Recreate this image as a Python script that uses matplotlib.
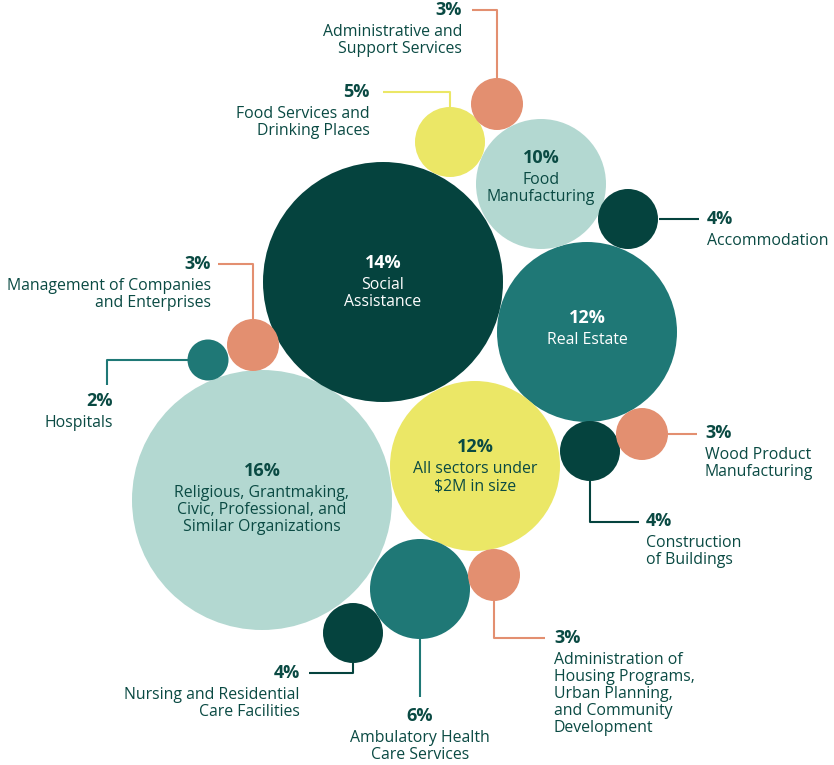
import matplotlib.pyplot as plt
from matplotlib.patches import Circle

plt.rcParams['font.family'] = ['Open Sans', 'DejaVu Sans']

# --- data ---
names = [
    "Religious, Grantmaking,\nCivic, Professional, and\nSimilar Organizations",
    "Social\nAssistance",
    "Real Estate",
    "All sectors under\n$2M in size",
    "Food\nManufacturing",
    "Ambulatory Health\nCare Services",
    "Food Services and\nDrinking Places",
    "Accommodation",
    "Construction\nof Buildings",
    "Nursing and Residential\nCare Facilities",
    "Administrative and\nSupport Services",
    "Management of Companies\nand Enterprises",
    "Wood Product\nManufacturing",
    "Administration of\nHousing Programs,\nUrban Planning,\nand Community\nDevelopment",
    "Hospitals",
]
pcts = [16, 14, 12, 12, 10, 6, 5, 4, 4, 4, 3, 3, 3, 3, 2]

# --- layout (pixels, y down) ---
cx = [262, 383, 587, 475, 541, 420, 450, 628, 590, 353, 497, 253, 642, 494, 208]
cy = [500, 282, 332, 466, 184, 589, 142, 219, 451, 633, 104, 345, 434, 575, 360]
rad = [130, 120, 90, 85, 65, 50, 35, 30, 30, 30, 26, 26, 26, 26, 20.5]

DARK = "#05433e"
TEAL = "#1f7876"
MINT = "#b3d8d1"
YELLOW = "#ebe766"
SALMON = "#e38f70"
TEXT = "#0a4a43"

fills = [MINT, DARK, TEAL, YELLOW, MINT, TEAL, YELLOW, DARK, DARK, DARK,
         SALMON, SALMON, SALMON, SALMON, TEAL]

# labels inside bubbles: index -> (text colour, y of percent)
inside = {0: ("#0a4a43", 471), 1: ("white", 263), 2: ("white", 318),
          3: ("#0a4a43", 447), 4: ("#0a4a43", 158)}

# outside labels: index -> (leader path, label x, percent y, align)
outside = {
    5: ([(420, 639), (420, 697)], 420, 716, "center"),
    6: ([(450, 108), (450, 92), (383, 92)], 370, 92, "right"),
    7: ([(659, 219), (699, 219)], 707, 219, "left"),
    8: ([(590, 481), (590, 522), (639, 522)], 646, 521, "left"),
    9: ([(353, 663), (353, 673), (309, 673)], 300, 673, "right"),
    10: ([(497, 78), (497, 10), (472, 10)], 462, 10, "right"),
    11: ([(253, 319), (253, 264), (218, 264)], 211, 264, "right"),
    12: ([(668, 434), (697, 434)], 705, 433, "left"),
    13: ([(494, 601), (494, 638), (545, 638)], 554, 638, "left"),
    14: ([(188, 360), (107, 360), (107, 385)], 113, 401, "right"),
}

fig = plt.figure(figsize=(8.34, 7.65), dpi=100)
ax = fig.add_axes([0, 0, 1, 1])
ax.set_xlim(0, 834)
ax.set_ylim(765, 0)
ax.set_aspect("equal")
ax.axis("off")

for i in range(len(names)):
    ax.add_patch(Circle((cx[i], cy[i]), rad[i], color=fills[i], lw=0, zorder=2))

LINE = 17
FS = 11.4
FS_PCT = 13
for i, (col, ypct) in inside.items():
    ax.text(cx[i], ypct, f"{pcts[i]}%", color=col, fontsize=FS_PCT, fontweight="bold",
            ha="center", va="center", zorder=3)
    for k, line in enumerate(names[i].split("\n")):
        ax.text(cx[i], ypct + 22 + k * LINE, line, color=col, fontsize=FS,
                ha="center", va="center", zorder=3)

for i, (path, lx, ypct, align) in outside.items():
    xs = [p[0] for p in path]
    ys = [p[1] for p in path]
    ax.plot(xs, ys, color=fills[i], lw=1.5, zorder=1, solid_capstyle="butt")
    ax.text(lx, ypct, f"{pcts[i]}%", color=TEXT, fontsize=FS_PCT, fontweight="bold",
            ha=align, va="center")
    for k, line in enumerate(names[i].split("\n")):
        ax.text(lx, ypct + 22 + k * LINE, line, color=TEXT, fontsize=FS,
                ha=align, va="center")

fig.savefig("out.png", dpi=100, facecolor="white")
